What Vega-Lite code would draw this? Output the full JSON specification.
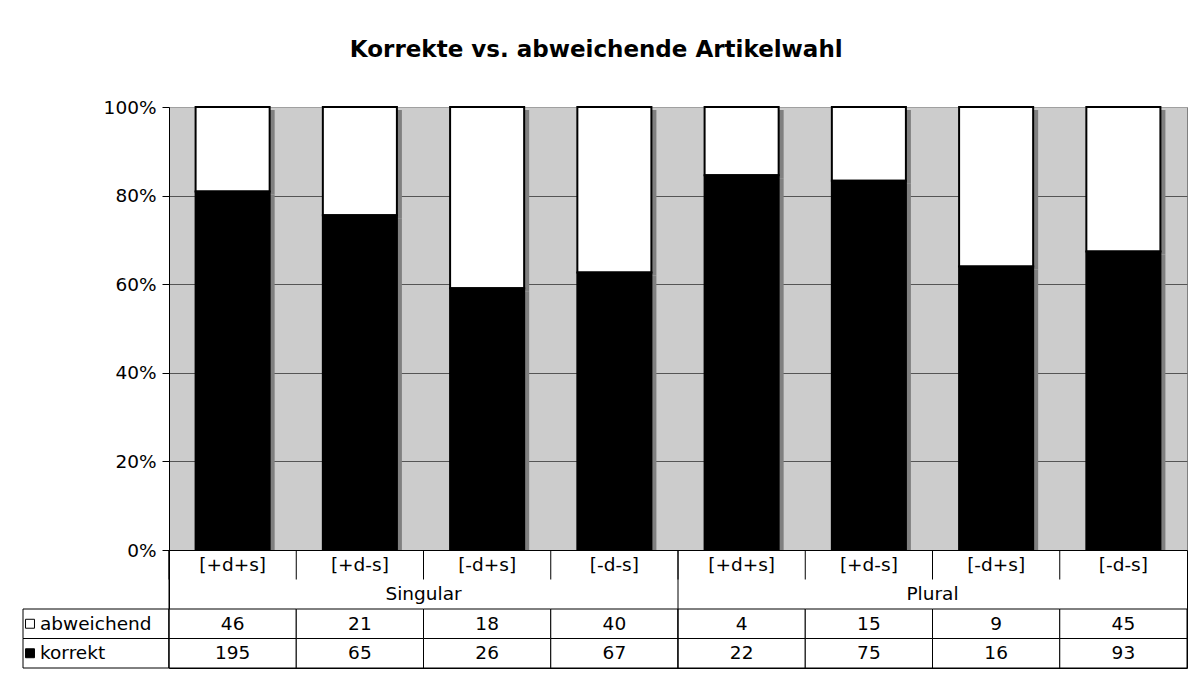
{
  "$schema": "https://vega.github.io/schema/vega-lite/v6.json",
  "background": "white",
  "padding": {"left": 22, "top": 38, "right": 8, "bottom": 8},
  "title": {"text": "Korrekte vs. abweichende Artikelwahl", "font": "DejaVu Sans", "fontSize": 23, "fontWeight": "bold", "color": "black", "anchor": "middle", "offset": 36, "dx": -9},
  "datasets": {
    "counts": [
      {"id": 1, "group": "Singular", "tier": "[+d+s]", "series": "abweichend", "count": 46},
      {"id": 1, "group": "Singular", "tier": "[+d+s]", "series": "korrekt", "count": 195},
      {"id": 2, "group": "Singular", "tier": "[+d-s]", "series": "abweichend", "count": 21},
      {"id": 2, "group": "Singular", "tier": "[+d-s]", "series": "korrekt", "count": 65},
      {"id": 3, "group": "Singular", "tier": "[-d+s]", "series": "abweichend", "count": 18},
      {"id": 3, "group": "Singular", "tier": "[-d+s]", "series": "korrekt", "count": 26},
      {"id": 4, "group": "Singular", "tier": "[-d-s]", "series": "abweichend", "count": 40},
      {"id": 4, "group": "Singular", "tier": "[-d-s]", "series": "korrekt", "count": 67},
      {"id": 5, "group": "Plural", "tier": "[+d+s]", "series": "abweichend", "count": 4},
      {"id": 5, "group": "Plural", "tier": "[+d+s]", "series": "korrekt", "count": 22},
      {"id": 6, "group": "Plural", "tier": "[+d-s]", "series": "abweichend", "count": 15},
      {"id": 6, "group": "Plural", "tier": "[+d-s]", "series": "korrekt", "count": 75},
      {"id": 7, "group": "Plural", "tier": "[-d+s]", "series": "abweichend", "count": 9},
      {"id": 7, "group": "Plural", "tier": "[-d+s]", "series": "korrekt", "count": 16},
      {"id": 8, "group": "Plural", "tier": "[-d-s]", "series": "abweichend", "count": 45},
      {"id": 8, "group": "Plural", "tier": "[-d-s]", "series": "korrekt", "count": 93}
    ],
    "cats": [
      {"id": 1, "tier": "[+d+s]"}, {"id": 2, "tier": "[+d-s]"}, {"id": 3, "tier": "[-d+s]"}, {"id": 4, "tier": "[-d-s]"},
      {"id": 5, "tier": "[+d+s]"}, {"id": 6, "tier": "[+d-s]"}, {"id": 7, "tier": "[-d+s]"}, {"id": 8, "tier": "[-d-s]"}
    ],
    "groups": [{"group": "Singular"}, {"group": "Plural"}],
    "series": [{"series": "abweichend"}, {"series": "korrekt"}]
  },
  "columns": 2,
  "spacing": 0,
  "bounds": "flush",
  "concat": [
    {
      "width": 146, "height": 443,
      "view": {"stroke": null},
      "data": {"values": []},
      "mark": "point"
    },
    {
      "width": 1018, "height": 443,
      "view": {"fill": "#cccccc", "stroke": "#808080"},
      "data": {"name": "counts"},
      "encoding": {
        "x": {"field": "id", "type": "ordinal", "axis": null, "scale": {"type": "band", "paddingInner": 0.418, "paddingOuter": 0.209}},
        "y": {"field": "count", "type": "quantitative", "stack": "normalize",
          "axis": {"title": null, "values": [0, 0.2, 0.4, 0.6, 0.8, 1], "format": ".0%", "grid": true,
            "gridColor": {"condition": {"test": "datum.value === 1", "value": "#a0a0a0"}, "value": "#555555"},
            "domainColor": "black", "tickColor": "black", "tickSize": 7, "labelPadding": 6,
            "labelFont": "DejaVu Sans", "labelFontSize": 18.5, "labelColor": "black"}},
        "order": {"field": "series", "sort": "descending"}
      },
      "layer": [
        {
          "mark": {"type": "bar", "color": "#808080", "xOffset": 5, "yOffset": 3, "clip": true},
          "encoding": {
            "detail": {"field": "series", "type": "nominal"}
          }
        },
        {
          "mark": {"type": "bar", "stroke": "black", "strokeWidth": 2},
          "encoding": {
            "color": {"field": "series", "type": "nominal", "scale": {"domain": ["abweichend", "korrekt"], "range": ["white", "black"]}, "legend": null}
          }
        }
      ]
    },
    {
      "width": 146, "height": 118,
      "view": {"stroke": null},
      "data": {"name": "series"},
      "layer": [
        {
          "mark": {"type": "rect", "fill": "white", "stroke": "black", "strokeWidth": 1},
          "encoding": {
            "y": {"field": "series", "type": "nominal", "axis": null, "scale": {"type": "band", "domain": ["tier", "group", "abweichend", "korrekt"], "paddingInner": 0, "paddingOuter": 0}}
          }
        },
        {
          "mark": {"type": "point", "shape": "square", "filled": true, "size": 80, "stroke": "black", "strokeWidth": 1, "opacity": 1},
          "encoding": {
            "x": {"value": 7},
            "y": {"field": "series", "type": "nominal", "axis": null, "scale": {"type": "band", "domain": ["tier", "group", "abweichend", "korrekt"], "paddingInner": 0, "paddingOuter": 0}},
            "fill": {"field": "series", "type": "nominal", "scale": {"domain": ["abweichend", "korrekt"], "range": ["white", "black"]}, "legend": null}
          }
        },
        {
          "mark": {"type": "text", "align": "left", "baseline": "middle", "font": "DejaVu Sans", "fontSize": 18.5, "color": "black"},
          "encoding": {
            "x": {"value": 17},
            "y": {"field": "series", "type": "nominal", "axis": null, "scale": {"type": "band", "domain": ["tier", "group", "abweichend", "korrekt"], "paddingInner": 0, "paddingOuter": 0}},
            "text": {"field": "series"}
          }
        }
      ]
    },
    {
      "width": 1018, "height": 118,
      "view": {"stroke": "black", "strokeWidth": 1},
      "resolve": {"scale": {"x": "independent"}},
      "layer": [
        {
          "data": {"name": "counts"},
          "mark": {"type": "rect", "fill": "white", "stroke": "black", "strokeWidth": 1},
          "encoding": {
            "x": {"field": "id", "type": "ordinal", "axis": null, "scale": {"type": "band", "paddingInner": 0, "paddingOuter": 0}},
            "y": {"field": "series", "type": "nominal", "axis": null, "scale": {"type": "band", "domain": ["tier", "group", "abweichend", "korrekt"], "paddingInner": 0, "paddingOuter": 0}}
          }
        },
        {
          "data": {"name": "counts"},
          "mark": {"type": "text", "baseline": "middle", "font": "DejaVu Sans", "fontSize": 18.5, "color": "black"},
          "encoding": {
            "x": {"field": "id", "type": "ordinal", "axis": null, "scale": {"type": "band", "paddingInner": 0, "paddingOuter": 0}},
            "y": {"field": "series", "type": "nominal", "axis": null},
            "text": {"field": "count", "type": "quantitative"}
          }
        },
        {
          "data": {"name": "cats"},
          "mark": {"type": "text", "baseline": "middle", "font": "DejaVu Sans", "fontSize": 18.5, "color": "black"},
          "encoding": {
            "x": {"field": "id", "type": "ordinal", "axis": null, "scale": {"type": "band", "paddingInner": 0, "paddingOuter": 0}},
            "y": {"datum": "tier", "type": "nominal", "axis": null},
            "text": {"field": "tier"}
          }
        },
        {
          "data": {"name": "cats"},
          "mark": {"type": "rule", "color": "black", "strokeWidth": 1},
          "encoding": {
            "x": {"field": "id", "type": "ordinal", "axis": null, "bandPosition": 0, "scale": {"type": "band", "paddingInner": 0, "paddingOuter": 0}},
            "y": {"datum": "tier", "type": "nominal", "axis": null, "bandPosition": 0},
            "y2": {"datum": "group", "bandPosition": 0}
          }
        },
        {
          "data": {"name": "groups"},
          "mark": {"type": "text", "baseline": "middle", "font": "DejaVu Sans", "fontSize": 18.5, "color": "black"},
          "encoding": {
            "x": {"field": "group", "type": "nominal", "sort": null, "axis": null, "scale": {"type": "band", "paddingInner": 0, "paddingOuter": 0}},
            "y": {"datum": "group", "type": "nominal", "axis": null},
            "text": {"field": "group"}
          }
        },
        {
          "data": {"name": "groups"},
          "mark": {"type": "rule", "color": "black", "strokeWidth": 1},
          "encoding": {
            "x": {"field": "group", "type": "nominal", "sort": null, "axis": null, "bandPosition": 0, "scale": {"type": "band", "paddingInner": 0, "paddingOuter": 0}}
          }
        }
      ]
    }
  ],
  "config": {
    "view": {"stroke": null},
    "font": "DejaVu Sans",
    "text": {"font": "DejaVu Sans", "color": "black"}
  }
}
